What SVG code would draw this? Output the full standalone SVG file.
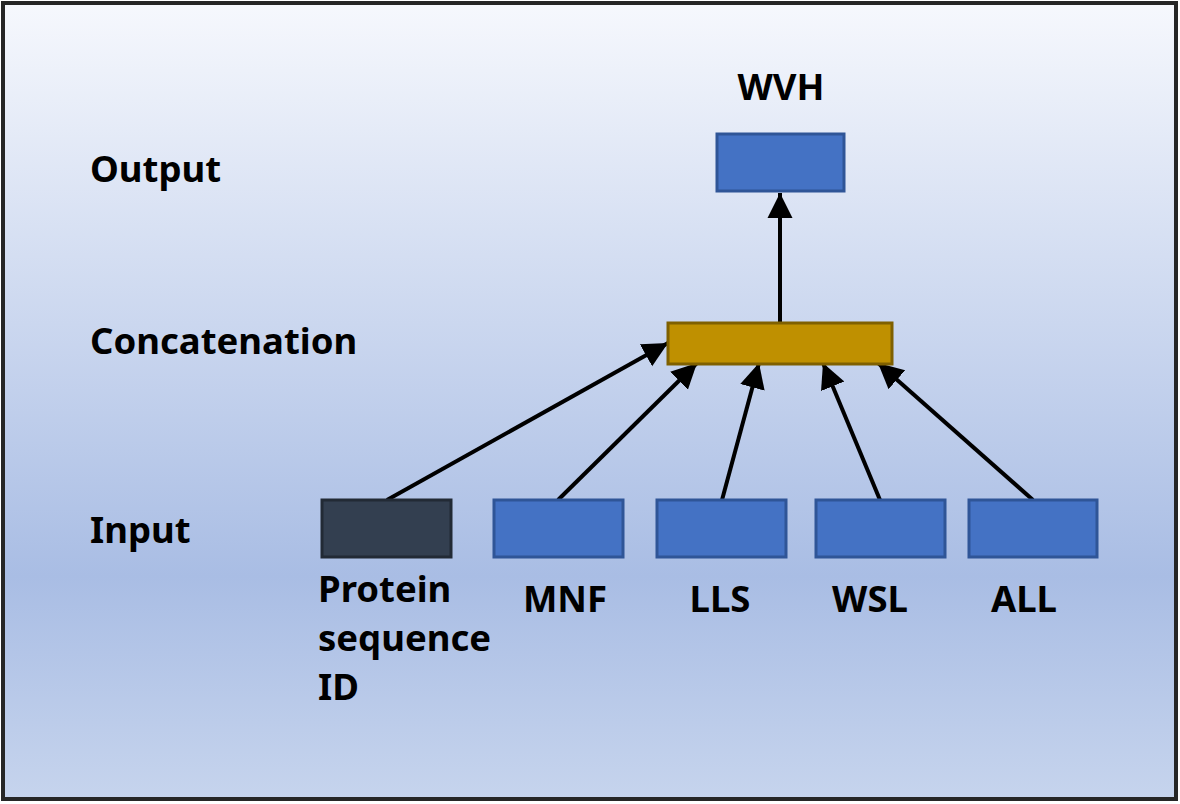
<svg xmlns="http://www.w3.org/2000/svg" width="1180" height="804" viewBox="0 0 1180 804">
<defs>
<linearGradient id="bg" x1="0" y1="0" x2="0" y2="1">
<stop offset="0" stop-color="#f6f8fd"/>
<stop offset="0.72" stop-color="#a9bde4"/>
<stop offset="1" stop-color="#c6d4ed"/>
</linearGradient>
<marker id="ah" viewBox="0 0 10 10" refX="10" refY="5" markerWidth="6.3" markerHeight="6.8" markerUnits="strokeWidth" orient="auto">
<path d="M0,0 L10,5 L0,10 z" fill="#000"/>
</marker>
<style>
.t{font-family:"Noto Sans","Open Sans","Liberation Sans",sans-serif;font-weight:bold;font-size:36.5px;fill:#000}
.blue{fill:#4472c4;stroke:#2f5597;stroke-width:3}
.gold{fill:#bf9000;stroke:#7f6000;stroke-width:3}
.dark{fill:#333f50;stroke:#222a35;stroke-width:3}
.c{stroke:#000;stroke-width:4;fill:none;marker-end:url(#ah)}
</style>
</defs>
<rect x="3" y="3" width="1173" height="796" fill="url(#bg)" stroke="#262626" stroke-width="4"/>
<g id="labels">
<text class="t" x="90" y="182">Output</text>
<text class="t" x="90" y="354">Concatenation</text>
<text class="t" x="90" y="543">Input</text>
</g>
<g id="connectors">
<line class="c" x1="387" y1="500" x2="668" y2="343"/>
<line class="c" x1="558" y1="500" x2="697" y2="363"/>
<line class="c" x1="722" y1="500" x2="759" y2="363"/>
<line class="c" x1="880" y1="500" x2="823" y2="363"/>
<line class="c" x1="1033" y1="500" x2="878" y2="363"/>
<line class="c" x1="780" y1="322" x2="780" y2="193"/>
</g>
<g id="wvh">
<rect class="blue" x="717" y="134" width="127" height="57"/>
<text class="t" x="781" y="100" text-anchor="middle">WVH</text>
</g>
<g id="concat">
<rect class="gold" x="668" y="323" width="224" height="41"/>
</g>
<g id="protein">
<rect class="dark" x="322" y="500" width="129" height="57"/>
<text class="t" x="318" y="602">Protein</text>
<text class="t" x="318" y="651">sequence</text>
<text class="t" x="318" y="700">ID</text>
</g>
<g id="mnf">
<rect class="blue" x="494" y="500" width="129" height="57"/>
<text class="t" x="565" y="612" text-anchor="middle">MNF</text>
</g>
<g id="lls">
<rect class="blue" x="657" y="500" width="129" height="57"/>
<text class="t" x="720" y="612" text-anchor="middle">LLS</text>
</g>
<g id="wsl">
<rect class="blue" x="816" y="500" width="129" height="57"/>
<text class="t" x="870" y="612" text-anchor="middle">WSL</text>
</g>
<g id="all">
<rect class="blue" x="969" y="500" width="128" height="57"/>
<text class="t" x="1024" y="612" text-anchor="middle">ALL</text>
</g>
</svg>
